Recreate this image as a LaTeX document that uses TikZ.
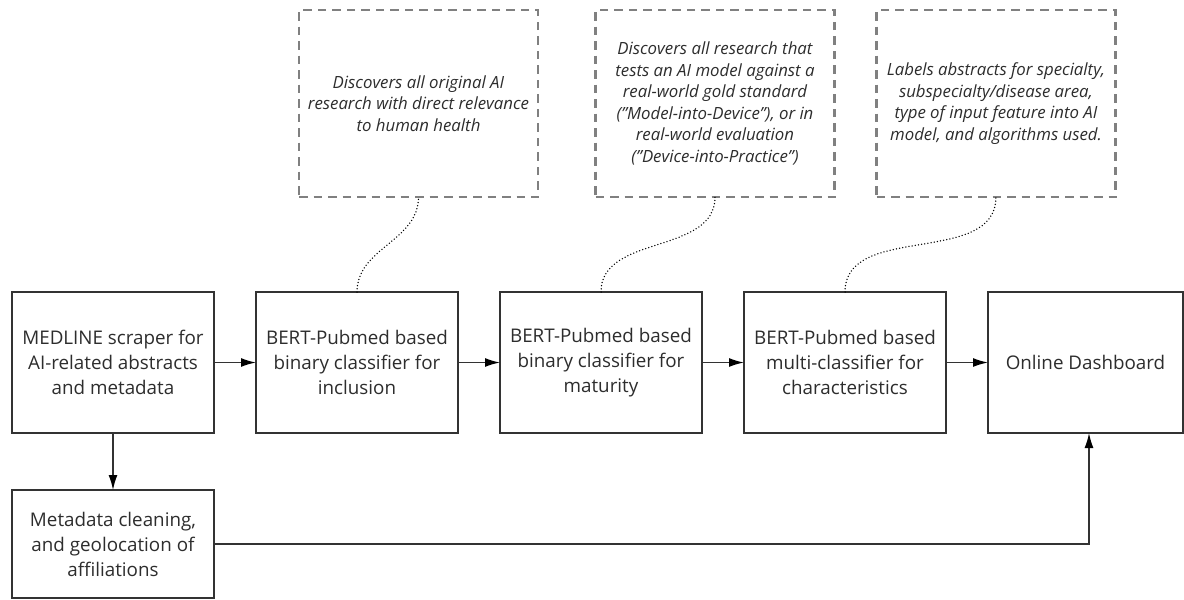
\documentclass[tikz,border=0pt]{standalone}
\usepackage{fontspec}
\setmainfont{Open Sans}
\usetikzlibrary{arrows.meta,positioning}
\definecolor{boxgrey}{RGB}{51,51,51}
\definecolor{notegrey}{RGB}{128,128,128}
\definecolor{textgrey}{RGB}{45,45,45}
\tikzset{
  stage/.style={draw=boxgrey,line width=2.2pt,fill=white,align=center,
    minimum width=202pt,minimum height=141pt,inner sep=4pt,outer sep=0pt,
    text=textgrey,font=\fontsize{18.8pt}{25pt}\selectfont},
  note/.style={draw=notegrey,line width=2.6pt,dash pattern=on 8.5pt off 6pt,
    align=center,minimum width=239pt,minimum height=187pt,outer sep=0pt,
    text=textgrey,font=\fontsize{16.8pt}{21.6pt}\selectfont\itshape},
  flow/.style={-{Latex[length=15pt,width=9pt,color=black]},line width=1.5pt,
    draw=boxgrey},
  hint/.style={line width=1.5pt,line cap=round,dash pattern=on 0pt off 3.2pt,
    draw=black}
}

\begin{document}
\begin{tikzpicture}[x=1pt,y=-1pt]
  \useasboundingbox[fill=white] (0,0) rectangle (1184,600);
  % pipeline
  \node[stage] (medline) at (113,362.5) {MEDLINE scraper for\\AI-related abstracts\\and metadata};
  \node[stage,right=42pt of medline] (inclusion) {BERT-Pubmed based\\binary classifier for\\inclusion};
  \node[stage,right=42pt of inclusion] (maturity) {BERT-Pubmed based\\binary classifier for\\maturity};
  \node[stage,right=42pt of maturity] (multi) {BERT-Pubmed based\\multi-classifier for\\characteristics};
  \node[stage,right=42pt of multi,minimum width=195pt] (dashboard) {Online Dashboard};
  \node[stage,below=57pt of medline,minimum height=108pt] (cleaning) {Metadata cleaning,\\and geolocation of\\affiliations};
  % notes
  \node[note] (noteinclusion) at (418.5,103.5) {Discovers all original AI\\research with direct relevance\\to human health};
  \node[note] (notematurity) at (715,103.5) {Discovers all research that\\tests an AI model against a\\real-world gold standard\\("Model-into-Device"), or in\\real-world evaluation\\("Device-into-Practice")};
  \node[note] (notemulti) at (996,103.5) {Labels abstracts for specialty,\\subspecialty/disease area,\\type of input feature into AI\\model, and algorithms used.};
  \draw[flow] (medline) -- (inclusion);
  \draw[flow] (inclusion) -- (maturity);
  \draw[flow] (maturity) -- (multi);
  \draw[flow] (multi) -- (dashboard);
  \draw[flow] (medline) -- (cleaning);
  \draw[flow] (cleaning) -| ([xshift=3.5pt]dashboard.south);
  \draw[hint] (inclusion.north) to[out=90,in=-90] (noteinclusion.south);
  \draw[hint] (maturity.north) to[out=90,in=-90] (notematurity.south);
  \draw[hint] (multi.north) to[out=90,in=-90] (notemulti.south);
\end{tikzpicture}
\end{document}
